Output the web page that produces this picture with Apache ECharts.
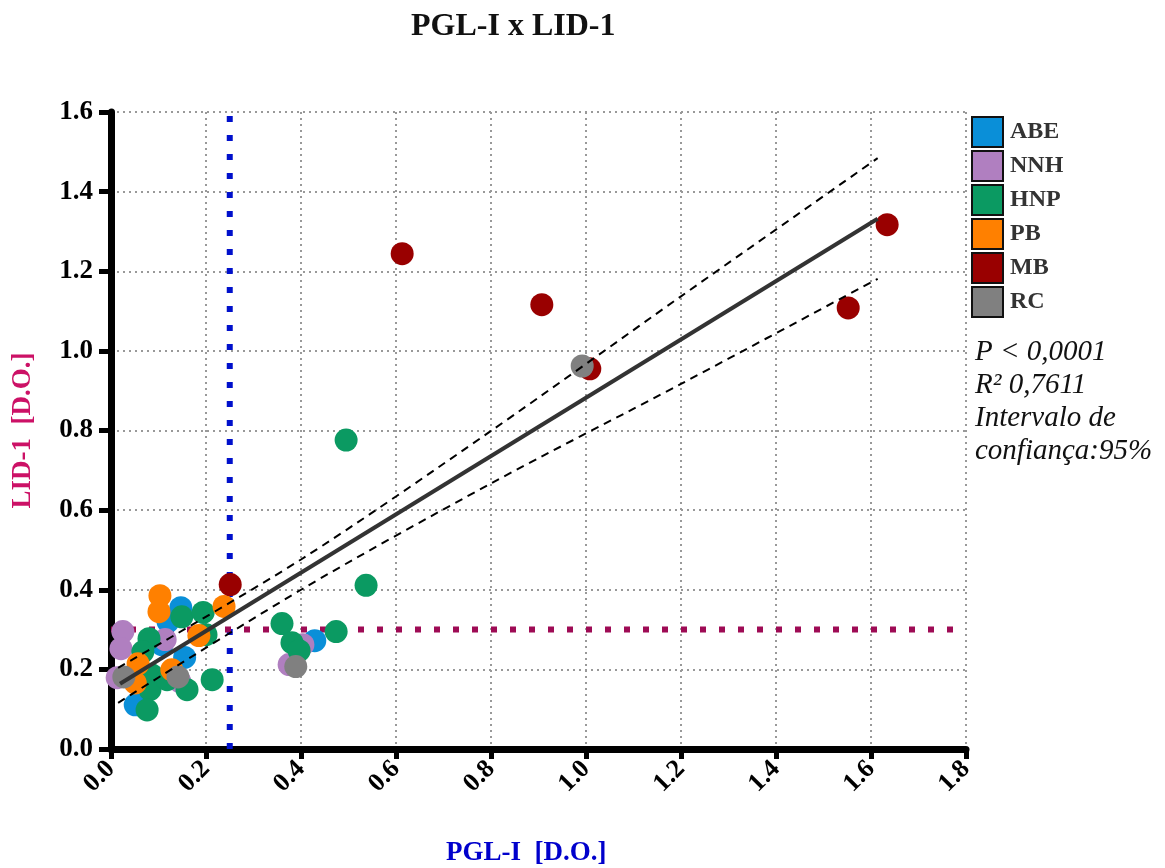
<!DOCTYPE html>
<html>
<head>
<meta charset="utf-8">
<script src="https://cdn.jsdelivr.net/npm/echarts@6/dist/echarts.min.js"></script>
<style>
  html, body { margin: 0; padding: 0; background: #fff; }
  #chart { width: 1165px; height: 868px; }
</style>
</head>
<body>
<div id="chart"></div>
<script>
// Groups and their measured optical densities: [PGL-I, LID-1]
const groupNames = ['ABE', 'NNH', 'HNP', 'PB', 'MB', 'RC'];
const groupColors = ['#0A8FD8', '#B07FC0', '#0B9A62', '#FF8000', '#990000', '#808080'];

const abe = [[0.147, 0.355], [0.120, 0.320], [0.107, 0.262], [0.155, 0.230], [0.051, 0.111], [0.429, 0.272]];
const nnh = [[0.025, 0.295], [0.021, 0.252], [0.013, 0.179], [0.114, 0.275], [0.145, 0.169], [0.404, 0.262], [0.375, 0.212]];
const hnp = [[0.495, 0.776], [0.537, 0.411], [0.474, 0.295], [0.360, 0.315], [0.381, 0.267], [0.396, 0.247],
             [0.149, 0.332], [0.194, 0.343], [0.200, 0.287], [0.080, 0.277], [0.067, 0.244], [0.086, 0.186],
             [0.082, 0.149], [0.118, 0.174], [0.160, 0.149], [0.213, 0.174], [0.076, 0.098]];
const pb  = [[0.103, 0.385], [0.101, 0.345], [0.238, 0.358], [0.185, 0.285], [0.057, 0.214], [0.051, 0.166], [0.128, 0.199]];
const mb  = [[0.251, 0.413], [0.613, 1.244], [0.907, 1.116], [1.008, 0.955], [1.634, 1.317], [1.552, 1.108]];
const rc  = [[0.992, 0.962], [0.389, 0.207], [0.141, 0.181], [0.027, 0.181]];

// Linear fit and its 95% confidence band
const fitX = [0.019, 1.614];
const fitY = [0.164, 1.332];
const bandX = [0.015, 0.4, 0.8, 1.2, 1.614];
const bandUpper = [0.204, 0.476, 0.799, 1.137, 1.484];
const bandLower = [0.116, 0.400, 0.667, 0.917, 1.181];

// Cut-off values
const cutPGL = 0.25;
const cutLID = 0.3;

// Axis ticks
const xTicks = [0.0, 0.2, 0.4, 0.6, 0.8, 1.0, 1.2, 1.4, 1.6, 1.8];
const yTicks = [0.0, 0.2, 0.4, 0.6, 0.8, 1.0, 1.2, 1.4, 1.6];

const groups = [abe, nnh, hnp, pb, mb, rc];
const serif = '"Liberation Serif", "DejaVu Serif", serif';

const pair = (xs, ys) => xs.map((x, i) => [x, ys[i]]);

const chart = echarts.init(document.getElementById('chart'), null, { renderer: 'canvas' });

const scatterSeries = groups.map((data, i) => ({
  name: groupNames[i],
  type: 'scatter',
  data: data,
  symbol: 'circle',
  symbolSize: 23,
  z: 3,
  itemStyle: { color: groupColors[i], opacity: 1 },
  emphasis: { disabled: true }
}));

const option = {
  backgroundColor: '#ffffff',
  animation: false,
  title: {
    text: 'PGL-I x LID-1',
    left: 406,
    top: 6,
    textStyle: { fontFamily: serif, fontWeight: 'bold', fontSize: 32, color: '#111' }
  },
  grid: { left: 111, right: 199, top: 112, bottom: 119, containLabel: false },
  legend: {
    data: groupNames,
    orient: 'vertical',
    left: 971,
    top: 116,
    padding: 0,
    icon: 'rect',
    itemWidth: 31,
    itemHeight: 30,
    itemGap: 2,
    selectedMode: false,
    itemStyle: { borderColor: '#111', borderWidth: 2 },
    textStyle: { fontFamily: serif, fontWeight: 'bold', fontSize: 24, lineHeight: 28, color: '#333', padding: [0, 0, 0, 2] }
  },
  xAxis: {
    type: 'value',
    min: xTicks[0],
    max: xTicks[xTicks.length - 1],
    interval: 0.2,
    axisLine: { show: true, onZero: false, lineStyle: { color: '#000', width: 7 } },
    axisTick: { show: true, length: 10, lineStyle: { color: '#000', width: 5 } },
    axisLabel: {
      rotate: 45,
      margin: 16,
      fontFamily: serif, fontWeight: 'bold', fontSize: 26, color: '#000',
      formatter: v => v.toFixed(1)
    },
    splitLine: { show: true, lineStyle: { color: '#999', width: 2, type: [2, 4] } }
  },
  yAxis: {
    type: 'value',
    min: yTicks[0],
    max: yTicks[yTicks.length - 1],
    interval: 0.2,
    name: 'LID-1  [D.O.]',
    nameLocation: 'middle',
    nameRotate: 90,
    nameGap: 74,
    nameTextStyle: { fontFamily: serif, fontWeight: 'bold', fontSize: 27, color: '#CC1166' },
    axisLine: { show: true, onZero: false, lineStyle: { color: '#000', width: 7 } },
    axisTick: { show: true, length: 12, lineStyle: { color: '#000', width: 5 } },
    axisLabel: {
      margin: 18,
      fontFamily: serif, fontWeight: 'bold', fontSize: 27, color: '#000',
      formatter: v => v.toFixed(1)
    },
    splitLine: { show: true, lineStyle: { color: '#999', width: 2, type: [2, 4] } }
  },
  graphic: [
    {
      type: 'text',
      left: 446,
      top: 840,
      style: { text: 'PGL-I  [D.O.]', fontFamily: serif, fontWeight: 'bold', fontSize: 27, fill: '#0000CC' }
    },
    {
      type: 'text',
      left: 975,
      top: 336,
      style: {
        text: 'P < 0,0001\nR² 0,7611\nIntervalo de\nconfiança:95%',
        fontFamily: serif, fontStyle: 'italic', fontSize: 29, lineHeight: 33, fill: '#111'
      }
    }
  ],
  series: [
    {
      name: 'cutPGL',
      type: 'line',
      data: [[cutPGL, yTicks[0]], [cutPGL, yTicks[yTicks.length - 1]]],
      symbol: 'none',
      z: 2,
      lineStyle: { color: '#0010CC', width: 6, type: [6, 13], cap: 'butt' },
      emphasis: { disabled: true }
    },
    {
      name: 'cutLID',
      type: 'line',
      data: [[xTicks[0], cutLID], [xTicks[xTicks.length - 1], cutLID]],
      symbol: 'none',
      z: 2,
      lineStyle: { color: '#9E0B55', width: 6, type: [6, 13], cap: 'butt' },
      emphasis: { disabled: true }
    },
    ...scatterSeries,
    {
      name: 'fit',
      type: 'line',
      data: pair(fitX, fitY),
      symbol: 'none',
      z: 6,
      lineStyle: { color: '#333', width: 4 },
      emphasis: { disabled: true }
    },
    {
      name: 'upper95',
      type: 'line',
      data: pair(bandX, bandUpper),
      smooth: 0.3,
      symbol: 'none',
      z: 6,
      lineStyle: { color: '#000', width: 2, type: [8, 6] },
      emphasis: { disabled: true }
    },
    {
      name: 'lower95',
      type: 'line',
      data: pair(bandX, bandLower),
      smooth: 0.3,
      symbol: 'none',
      z: 6,
      lineStyle: { color: '#000', width: 2, type: [8, 6] },
      emphasis: { disabled: true }
    }
  ]
};

chart.setOption(option);
</script>
</body>
</html>
